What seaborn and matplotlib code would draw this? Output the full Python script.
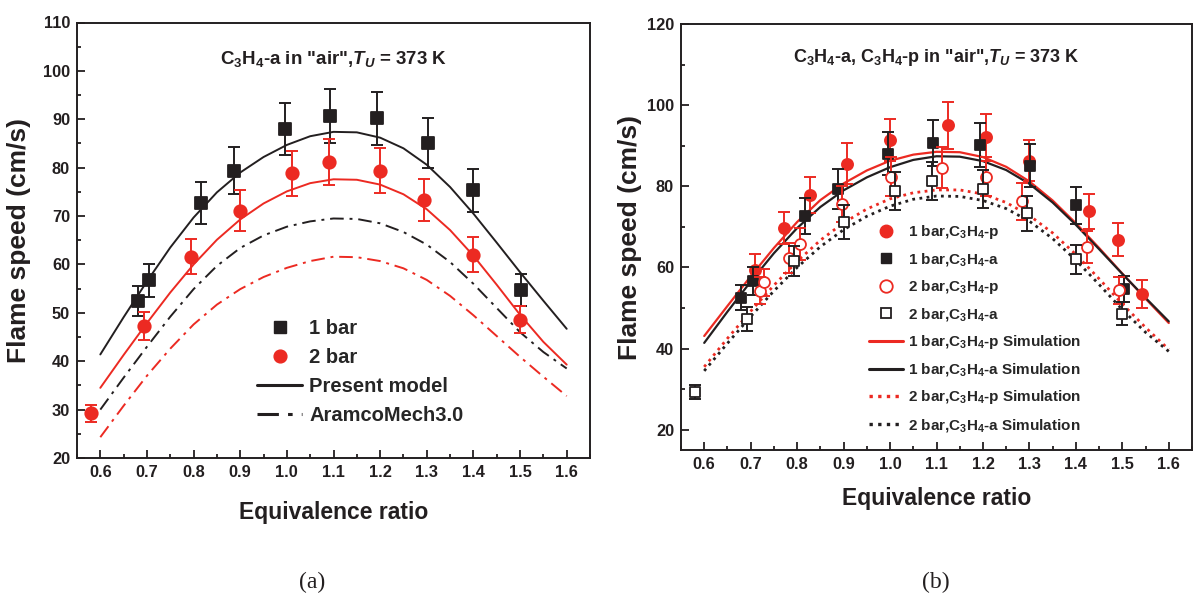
import matplotlib
matplotlib.use("Agg")
import matplotlib.pyplot as plt
from matplotlib import font_manager
from matplotlib.lines import Line2D
from matplotlib.ticker import MultipleLocator, FormatStrFormatter
import pandas as pd
import seaborn as sns

# ---------------- data ----------------
phi_sim = [0.60, 0.65, 0.70, 0.75, 0.80, 0.85, 0.90, 0.95, 1.00, 1.05, 1.10,
           1.15, 1.20, 1.25, 1.30, 1.35, 1.40, 1.45, 1.50, 1.55, 1.60]

# C3H4-a, present model
model_a_1bar = [41.4, 49.1, 56.5, 63.5, 69.7, 74.9, 79.0, 82.2, 84.7, 86.5, 87.4,
                87.3, 86.2, 84.0, 80.6, 76.0, 70.5, 64.5, 58.4, 52.5, 46.7]
model_a_2bar = [34.5, 41.3, 47.9, 54.2, 60.0, 65.1, 69.3, 72.6, 75.1, 76.8, 77.6,
                77.5, 76.5, 74.5, 71.4, 67.1, 61.8, 55.8, 49.6, 44.0, 39.3]
# C3H4-a, AramcoMech3.0
aramco_1bar = [30.0, 36.6, 43.0, 49.2, 54.9, 59.7, 63.4, 66.0, 67.8, 68.9, 69.5,
               69.4, 68.5, 66.7, 64.1, 60.5, 56.0, 51.0, 46.0, 41.9, 38.5]
aramco_2bar = [24.3, 30.8, 37.0, 42.6, 47.6, 51.7, 54.9, 57.4, 59.3, 60.7, 61.6,
               61.5, 60.7, 59.2, 56.8, 53.5, 49.5, 45.2, 40.9, 36.8, 32.8]
# C3H4-p, present model
model_p_1bar = [43.1, 50.5, 57.8, 64.8, 71.2, 76.6, 80.7, 83.9, 86.3, 87.8, 88.5,
                88.4, 87.2, 84.8, 81.2, 76.5, 70.9, 64.8, 58.5, 52.3, 46.3]
model_p_2bar = [35.5, 42.5, 49.2, 55.6, 61.5, 66.7, 71.0, 74.4, 76.9, 78.4, 79.1,
                79.1, 78.1, 76.0, 72.8, 68.5, 63.2, 57.2, 51.0, 45.2, 39.8]

# measurements, C3H4-a
phi_a_1bar = [0.680, 0.705, 0.816, 0.887, 0.995, 1.093, 1.193, 1.302, 1.400, 1.503]
su_a_1bar = [52.5, 56.7, 72.7, 79.4, 88.0, 90.7, 90.2, 85.1, 75.3, 54.7]
err_a_1bar = [3.1, 3.4, 4.4, 4.9, 5.3, 5.6, 5.5, 5.2, 4.5, 3.3]

phi_a_2bar = [0.580, 0.693, 0.794, 0.900, 1.010, 1.090, 1.200, 1.295, 1.400, 1.499]
su_a_2bar = [29.2, 47.3, 61.6, 71.1, 78.8, 81.2, 79.4, 73.3, 62.0, 48.6]
err_a_2bar = [1.7, 2.9, 3.6, 4.2, 4.7, 4.7, 4.7, 4.4, 3.6, 2.8]

# measurements, C3H4-p
phi_p_1bar = [0.710, 0.771, 0.827, 0.908, 0.999, 1.124, 1.206, 1.300, 1.428, 1.491, 1.543]
su_p_1bar = [59.4, 69.7, 77.9, 85.6, 91.5, 95.0, 92.1, 86.3, 73.8, 66.8, 53.5]
err_p_1bar = [3.8, 4.0, 4.4, 5.1, 5.2, 5.8, 5.8, 5.1, 4.4, 4.1, 3.5]

phi_p_2bar = [0.720, 0.729, 0.782, 0.806, 0.897, 1.002, 1.112, 1.206, 1.285, 1.423, 1.492]
su_p_2bar = [54.3, 56.3, 62.4, 65.8, 75.6, 82.4, 84.6, 82.4, 76.3, 65.0, 54.4]
err_p_2bar = [3.3, 3.4, 3.7, 3.9, 4.5, 4.9, 5.1, 4.9, 4.6, 3.9, 3.3]

xticks = [0.6, 0.7, 0.8, 0.9, 1.0, 1.1, 1.2, 1.3, 1.4, 1.5, 1.6]

# ---------------- style ----------------
RED = "#ec2a22"
BLACK = "#231f20"

sns.set_style("ticks")
names = {f.name for f in font_manager.fontManager.ttflist}
SANS = "Liberation Sans" if "Liberation Sans" in names else "DejaVu Sans"
SERIF = "Liberation Serif" if "Liberation Serif" in names else "DejaVu Serif"
if "Liberation Sans Narrow" in names:
    LEG_B_FONT, LEG_B_SIZE = "Liberation Sans Narrow", 12.5
else:
    LEG_B_FONT, LEG_B_SIZE = SANS, 11.0

plt.rcParams.update({
    "font.family": [SANS, "DejaVu Sans"],
    "font.weight": "bold",
    "mathtext.fontset": "custom",
    "mathtext.rm": f"{SANS}:bold",
    "mathtext.bf": f"{SANS}:bold",
    "mathtext.it": f"{SANS}:italic:bold",
    "axes.linewidth": 1.4,
    "axes.edgecolor": BLACK,
    "xtick.direction": "in",
    "ytick.direction": "in",
    "xtick.major.size": 5.5,
    "ytick.major.size": 5.5,
    "xtick.minor.size": 3.0,
    "ytick.minor.size": 3.0,
    "xtick.major.width": 1.3,
    "ytick.major.width": 1.3,
    "xtick.minor.width": 1.3,
    "ytick.minor.width": 1.3,
})

W, H = 1193, 596
fig = plt.figure(figsize=(W / 100, H / 100), dpi=100)
fig.patch.set_facecolor("white")


def px_axes(left, right, top, bottom):
    return fig.add_axes([left / W, (H - bottom) / H, (right - left) / W, (bottom - top) / H])


axA = px_axes(77, 590, 22.5, 458)
axB = px_axes(681, 1192, 24, 450)


def style_axes(ax, ylo, yhi, ymaj, ymin):
    ax.set_xlim(0.55, 1.65)
    ax.set_ylim(ylo, yhi)
    ax.set_xticks(xticks)
    ax.xaxis.set_minor_locator(MultipleLocator(0.05))
    ax.xaxis.set_major_formatter(FormatStrFormatter("%.1f"))
    ax.yaxis.set_major_locator(MultipleLocator(ymaj))
    ax.yaxis.set_minor_locator(MultipleLocator(ymin))
    ax.tick_params(which="both", top=False, right=False, colors=BLACK)
    ax.tick_params(which="major", labelsize=11.8, pad=5)
    for lab in ax.get_xticklabels() + ax.get_yticklabels():
        lab.set_fontweight("bold")
        lab.set_color(BLACK)
    for s in ax.spines.values():
        s.set_visible(True)
        s.set_color(BLACK)
    ax.grid(False)


def curve(ax, y, color, ls, lw=1.4):
    df = pd.DataFrame({"phi": phi_sim, "su": y})
    sns.lineplot(data=df, x="phi", y="su", ax=ax, color=color, linestyle=ls,
                 linewidth=lw, sort=False, legend=False, zorder=2)


def points(ax, x, y, err, color, marker, face, size, z):
    ax.errorbar(x, y, yerr=err, fmt="none", ecolor=color, elinewidth=1.4,
                capsize=4, capthick=1.4, zorder=z)
    df = pd.DataFrame({"phi": x, "su": y})
    sns.scatterplot(data=df, x="phi", y="su", ax=ax, marker=marker, s=size,
                    color=face, edgecolor=color, linewidth=1.3, legend=False,
                    zorder=z + 0.5)


# ---------------- (a) C3H4-a ----------------
dashdot = (0, (7, 3, 1.5, 3))
curve(axA, model_a_1bar, BLACK, "-")
curve(axA, model_a_2bar, RED, "-")
curve(axA, aramco_1bar, BLACK, dashdot)
curve(axA, aramco_2bar, RED, dashdot)
points(axA, phi_a_1bar, su_a_1bar, err_a_1bar, BLACK, "s", BLACK, 68, 4)
points(axA, phi_a_2bar, su_a_2bar, err_a_2bar, RED, "o", RED, 80, 4)

style_axes(axA, 20, 110, 10, 5)
axA.set_xlabel("Equivalence ratio", fontsize=16.5, fontweight="bold", color=BLACK)
axA.set_ylabel("Flame speed (cm/s)", fontsize=19, fontweight="bold", color=BLACK)
axA.xaxis.set_label_coords(0.5, -0.098)
axA.yaxis.set_label_coords(-0.090, 0.5)
axA.text(0.5, (458 - 64) / 435.5, 'C$_3$H$_4$-a in "air",$T_U$ = 373 K',
         transform=axA.transAxes, ha="center", va="baseline", fontsize=13.5,
         fontweight="bold", color=BLACK)

handles_a = [
    Line2D([], [], ls="none", marker="s", ms=8.2, color=BLACK),
    Line2D([], [], ls="none", marker="o", ms=9.2, color=RED),
    Line2D([], [], ls="-", lw=2.2, color=BLACK),
    Line2D([], [], ls=dashdot, lw=2.2, color=BLACK),
]
labels_a = ["1 bar", "2 bar", "Present model", "AramcoMech3.0"]
axA.legend(handles_a, labels_a, loc="upper left", frameon=False,
           bbox_to_anchor=((257 - 77) / 513, (458 - 319) / 435.5),
           borderaxespad=0, borderpad=0, handlelength=2.25, handletextpad=0.35,
           labelspacing=0.50, prop={"family": SANS, "weight": "bold", "size": 14.5})

# ---------------- (b) C3H4-a and C3H4-p ----------------
dotted = (0, (1.0, 1.6))
curve(axB, model_p_1bar, RED, "-", 1.6)
curve(axB, model_a_1bar, BLACK, "-", 1.6)
curve(axB, model_p_2bar, RED, dotted, 2.0)
curve(axB, model_a_2bar, BLACK, dotted, 2.0)
points(axB, phi_p_1bar, su_p_1bar, err_p_1bar, RED, "o", RED, 64, 4)
points(axB, phi_a_1bar, su_a_1bar, err_a_1bar, BLACK, "s", BLACK, 54, 5)
points(axB, phi_p_2bar, su_p_2bar, err_p_2bar, RED, "o", "white", 62, 6)
points(axB, phi_a_2bar, su_a_2bar, err_a_2bar, BLACK, "s", "white", 52, 7)

style_axes(axB, 15, 120, 20, 10)
axB.set_xlabel("Equivalence ratio", fontsize=16.5, fontweight="bold", color=BLACK)
axB.set_ylabel("Flame speed (cm/s)", fontsize=19, fontweight="bold", color=BLACK)
axB.xaxis.set_label_coords(0.5, -0.087)
axB.yaxis.set_label_coords(-0.076, 0.5)
axB.text(0.5, (450 - 62) / 426, 'C$_3$H$_4$-a, C$_3$H$_4$-p in "air",$T_U$ = 373 K',
         transform=axB.transAxes, ha="center", va="baseline", fontsize=13.0,
         fontweight="bold", color=BLACK)

handles_b = [
    Line2D([], [], ls="none", marker="o", ms=9.0, color=RED),
    Line2D([], [], ls="none", marker="s", ms=7.8, color=BLACK),
    Line2D([], [], ls="none", marker="o", ms=9.0, mfc="white", mec=RED, mew=1.3),
    Line2D([], [], ls="none", marker="s", ms=7.8, mfc="white", mec=BLACK, mew=1.3),
    Line2D([], [], ls="-", lw=2.2, color=RED),
    Line2D([], [], ls="-", lw=2.2, color=BLACK),
    Line2D([], [], ls=dotted, lw=2.4, color=RED),
    Line2D([], [], ls=dotted, lw=2.4, color=BLACK),
]
labels_b = ["1 bar,C$_3$H$_4$-p", "1 bar,C$_3$H$_4$-a", "2 bar,C$_3$H$_4$-p",
            "2 bar,C$_3$H$_4$-a", "1 bar,C$_3$H$_4$-p Simulation",
            "1 bar,C$_3$H$_4$-a Simulation", "2 bar,C$_3$H$_4$-p Simulation",
            "2 bar,C$_3$H$_4$-a Simulation"]
fs_px = LEG_B_SIZE * 100 / 72
axB.legend(handles_b, labels_b, loc="upper left", frameon=False,
           bbox_to_anchor=((869 - 681) / 511, (450 - 223) / 426),
           borderaxespad=0, borderpad=0, handlelength=34 / fs_px,
           handletextpad=5 / fs_px, labelspacing=0.66,
           prop={"family": LEG_B_FONT, "weight": "bold", "size": LEG_B_SIZE})

# panel tags
fig.text(312 / W, 1 - 582 / H, "(a)", family=SERIF, fontweight="normal",
         fontsize=17, ha="center", va="center", color=BLACK)
fig.text(936 / W, 1 - 582 / H, "(b)", family=SERIF, fontweight="normal",
         fontsize=17, ha="center", va="center", color=BLACK)

fig.savefig("out.png", dpi=100, facecolor="white")
